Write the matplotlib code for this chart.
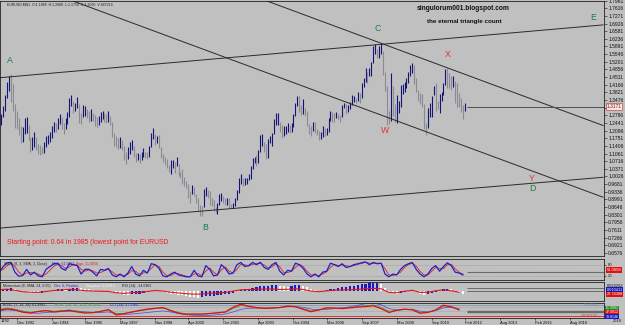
import numpy as np
import matplotlib
matplotlib.use('Agg')
import matplotlib.pyplot as plt
import matplotlib.transforms as mtrans

plt.rcParams['font.family'] = ['Liberation Sans', 'DejaVu Sans']

# ---------------- data ----------------
first_year, first_month = 1992, 3          # first monthly bar: Mar 1992
high = [
    # 1992 Mar-Dec
    1.265, 1.285, 1.320, 1.370, 1.430, 1.455, 1.466, 1.420, 1.330, 1.300,
    # 1993
    1.265, 1.230, 1.225, 1.265, 1.270, 1.235, 1.180, 1.180, 1.205, 1.180, 1.150, 1.145,
    # 1994
    1.135, 1.160, 1.185, 1.190, 1.205, 1.230, 1.250, 1.245, 1.265, 1.285, 1.270, 1.245,
    # 1995
    1.265, 1.295, 1.355, 1.370, 1.345, 1.335, 1.360, 1.330, 1.290, 1.325, 1.320, 1.305,
    # 1996
    1.300, 1.305, 1.290, 1.280, 1.270, 1.275, 1.295, 1.300, 1.290, 1.285, 1.300, 1.275,
    # 1997
    1.250, 1.200, 1.185, 1.175, 1.180, 1.165, 1.140, 1.115, 1.135, 1.160, 1.165, 1.140,
    # 1998
    1.110, 1.110, 1.105, 1.115, 1.130, 1.115, 1.115, 1.140, 1.200, 1.220, 1.195, 1.185,
    # 1999
    1.190, 1.135, 1.105, 1.090, 1.080, 1.055, 1.075, 1.075, 1.070, 1.090, 1.060, 1.025,
    # 2000
    1.035, 1.000, 0.980, 0.968, 0.935, 0.965, 0.955, 0.925, 0.905, 0.875, 0.870, 0.945,
    # 2001
    0.955, 0.940, 0.935, 0.905, 0.895, 0.865, 0.885, 0.925, 0.930, 0.915, 0.905, 0.905,
    # 2002
    0.905, 0.880, 0.885, 0.905, 0.940, 0.995, 1.015, 0.995, 0.995, 0.995, 1.015, 1.050,
    # 2003
    1.085, 1.090, 1.100, 1.120, 1.190, 1.195, 1.160, 1.150, 1.170, 1.185, 1.200, 1.260,
    # 2004
    1.290, 1.290, 1.250, 1.235, 1.230, 1.230, 1.245, 1.235, 1.245, 1.285, 1.335, 1.367,
    # 2005
    1.365, 1.325, 1.350, 1.310, 1.300, 1.240, 1.230, 1.250, 1.250, 1.215, 1.210, 1.205,
    # 2006
    1.230, 1.220, 1.220, 1.265, 1.300, 1.295, 1.290, 1.295, 1.285, 1.280, 1.325, 1.335,
    # 2007
    1.330, 1.325, 1.340, 1.370, 1.365, 1.355, 1.385, 1.380, 1.425, 1.445, 1.490, 1.475,
    # 2008
    1.490, 1.520, 1.590, 1.600, 1.580, 1.590, 1.604, 1.570, 1.475, 1.410, 1.300, 1.470,
    # 2009
    1.410, 1.330, 1.370, 1.345, 1.415, 1.420, 1.430, 1.445, 1.475, 1.505, 1.514, 1.505,
    # 2010
    1.445, 1.395, 1.380, 1.375, 1.330, 1.245, 1.310, 1.335, 1.365, 1.412, 1.425, 1.345,
    # 2011
    1.375, 1.385, 1.425, 1.488, 1.494, 1.470, 1.454, 1.455, 1.435, 1.425, 1.380, 1.355,
    # 2012 Jan-Feb
    1.323, 1.335,
]
low = [
    1.215, 1.235, 1.270, 1.300, 1.355, 1.390, 1.340, 1.300, 1.220, 1.215,
    1.190, 1.155, 1.160, 1.195, 1.200, 1.165, 1.115, 1.120, 1.135, 1.120, 1.105, 1.100,
    1.105, 1.110, 1.135, 1.150, 1.160, 1.175, 1.205, 1.205, 1.215, 1.240, 1.215, 1.195,
    1.215, 1.240, 1.270, 1.320, 1.290, 1.300, 1.310, 1.245, 1.240, 1.270, 1.275, 1.265,
    1.250, 1.255, 1.255, 1.230, 1.225, 1.235, 1.250, 1.260, 1.250, 1.245, 1.250, 1.235,
    1.180, 1.140, 1.135, 1.125, 1.130, 1.120, 1.075, 1.060, 1.080, 1.105, 1.120, 1.090,
    1.070, 1.075, 1.065, 1.075, 1.090, 1.085, 1.080, 1.090, 1.135, 1.170, 1.145, 1.155,
    1.130, 1.085, 1.070, 1.055, 1.040, 1.025, 1.015, 1.040, 1.020, 1.050, 1.005, 0.997,
    0.968, 0.960, 0.950, 0.905, 0.885, 0.925, 0.915, 0.885, 0.845, 0.823, 0.825, 0.865,
    0.915, 0.905, 0.875, 0.870, 0.845, 0.840, 0.834, 0.875, 0.890, 0.885, 0.875, 0.875,
    0.860, 0.860, 0.860, 0.870, 0.895, 0.930, 0.970, 0.960, 0.965, 0.970, 0.985, 0.990,
    1.035, 1.065, 1.050, 1.065, 1.115, 1.140, 1.115, 1.080, 1.085, 1.155, 1.140, 1.195,
    1.235, 1.235, 1.205, 1.175, 1.185, 1.195, 1.205, 1.200, 1.205, 1.225, 1.275, 1.320,
    1.295, 1.280, 1.285, 1.275, 1.230, 1.195, 1.185, 1.210, 1.200, 1.190, 1.165, 1.170,
    1.180, 1.185, 1.190, 1.205, 1.255, 1.250, 1.250, 1.265, 1.260, 1.250, 1.270, 1.310,
    1.285, 1.295, 1.305, 1.325, 1.340, 1.335, 1.345, 1.335, 1.355, 1.405, 1.430, 1.425,
    1.455, 1.455, 1.515, 1.555, 1.535, 1.535, 1.555, 1.460, 1.390, 1.233, 1.240, 1.255,
    1.275, 1.250, 1.246, 1.290, 1.315, 1.375, 1.385, 1.400, 1.425, 1.455, 1.470, 1.420,
    1.385, 1.345, 1.330, 1.315, 1.215, 1.188, 1.220, 1.270, 1.270, 1.370, 1.300, 1.305,
    1.287, 1.345, 1.370, 1.415, 1.400, 1.400, 1.395, 1.405, 1.336, 1.315, 1.315, 1.295,
    1.262, 1.300,
]
last_price = 1.3171

# Stochastic (every 2 months from Mar 1992)
stoch_main = [40, 70, 90, 92, 40,
              18, 22, 55, 25, 40, 20,
              15, 55, 70, 85, 88, 60,
              50, 85, 80, 75, 30, 55,
              55, 40, 20, 55, 50, 60,
              25, 15, 30, 15, 35, 70,
              30, 20, 50, 35, 85, 80,
              60, 20, 15, 30, 40, 25,
              20, 15, 15, 50, 20, 15,
              75, 55, 20, 25, 80, 60,
              30, 35, 80, 92, 70, 75,
              92, 80, 93, 65, 55, 80,
              92, 45, 25, 50, 45, 88,
              80, 60, 30, 15, 30, 15,
              40, 45, 88, 80, 70, 85,
              65, 70, 80, 85, 90, 95,
              80, 92, 85, 88, 30, 15,
              30, 25, 55, 75, 85, 92,
              55, 30, 15, 30, 60, 75,
              45, 70, 90, 75, 40, 35,
              25]
stoch_signal = [45, 55, 75, 88, 70,
                40, 25, 35, 38, 35, 30,
                20, 30, 50, 72, 82, 75,
                60, 68, 80, 78, 55, 45,
                52, 48, 35, 38, 48, 55,
                42, 25, 25, 22, 28, 48,
                45, 28, 35, 40, 60, 80,
                70, 40, 22, 22, 32, 32,
                25, 18, 16, 30, 32, 22,
                45, 62, 40, 25, 52, 68,
                45, 35, 55, 82, 80, 73,
                82, 85, 88, 78, 62, 68,
                85, 68, 38, 38, 45, 65,
                82, 70, 45, 25, 25, 22,
                30, 42, 65, 82, 75, 78,
                75, 70, 75, 82, 87, 92,
                88, 87, 88, 86, 58, 25,
                22, 28, 40, 65, 80, 88,
                72, 45, 25, 25, 45, 65,
                60, 58, 80, 82, 58, 40,
                30]

# Momentum histogram (every 2 months) and its red line (every 4 months)
momentum_hist = [0.10, 0.18, 0.28, 0.35, 0.20,
                 0.02, -0.10, -0.12, -0.15, -0.20, -0.22,
                 -0.18, -0.08, 0.02, 0.12, 0.20, 0.22,
                 0.20, 0.28, 0.34, 0.36, 0.30, 0.24,
                 0.18, 0.12, 0.05, 0.02, 0.00, -0.02,
                 -0.08, -0.18, -0.28, -0.35, -0.38, -0.32,
                 -0.28, -0.25, -0.22, -0.12, 0.02, 0.05,
                 0.02, -0.08, -0.18, -0.25, -0.30, -0.36,
                 -0.42, -0.50, -0.58, -0.62, -0.68, -0.62,
                 -0.52, -0.48, -0.44, -0.40, -0.36, -0.32,
                 -0.26, -0.15, -0.02, 0.12, 0.20, 0.26,
                 0.34, 0.42, 0.50, 0.55, 0.58, 0.64,
                 0.66, 0.58, 0.50, 0.48, 0.52, 0.62,
                 0.64, 0.55, 0.40, 0.25, 0.12, 0.02,
                 0.02, 0.08, 0.18, 0.26, 0.32, 0.40,
                 0.45, 0.52, 0.58, 0.62, 0.70, 0.78,
                 0.80, 0.85, 0.86, 0.70, 0.30, -0.05,
                 -0.20, -0.30, -0.22, -0.10, 0.02, 0.10,
                 -0.05, -0.25, -0.40, -0.30, -0.15, -0.05,
                 0.05, 0.18, 0.25, 0.18, 0.02, -0.12,
                 -0.25]
momentum_line = [0.15, 0.22, 0.10, -0.05, -0.10, -0.12, -0.02, 0.08, 0.14, 0.20,
                 0.15, 0.06, 0.02, 0.00, -0.02, -0.15, -0.22, -0.15, -0.10, -0.02,
                 0.08, 0.02, -0.10, -0.18, -0.25, -0.30, -0.28, -0.20, -0.18, -0.12,
                 0.02, 0.15, 0.18, 0.20, 0.22, 0.24, 0.18, 0.20, 0.26, 0.18,
                 0.02, -0.05, 0.04, 0.10, 0.14, 0.16, 0.20, 0.26, 0.30, 0.25,
                 -0.12, -0.15, 0.00, 0.10, -0.12, -0.10, 0.05, 0.15, 0.05, -0.10]

# Oscillator panel (every 4 months)
osc_red = [48.7, 54, 50, 41, 38, 44, 47, 42, 45, 48,
           42, 38, 39, 44, 51, 30, 35, 42, 48, 53,
           56, 59, 47, 37, 33, 34, 34, 36, 39, 42,
           60, 72, 64, 59, 56, 57, 59, 65, 62, 52,
           43, 50, 58, 57, 55, 58, 61, 63, 66, 55,
           40, 48, 53, 50, 37, 40, 50, 68, 62, 50]
osc_green = [52, 57, 53, 46, 41, 44, 48, 45, 47, 50,
             46, 42, 41, 45, 50, 36, 37, 41, 46, 51,
             55, 57, 49, 40, 35, 34, 33, 35, 38, 41,
             55, 67, 63, 59, 57, 57, 59, 64, 63, 55,
             46, 49, 56, 57, 56, 59, 63, 66, 69, 60,
             45, 48, 52, 51, 40, 41, 49, 65, 63, 52]
osc_blue = [45, 50, 48, 43, 38, 37, 40, 42, 43, 45,
            44, 42, 40, 40, 42, 36, 33, 34, 37, 40,
            43, 46, 42, 36, 31, 29, 28, 29, 31, 34,
            42, 52, 56, 57, 57, 58, 60, 62, 63, 60,
            53, 50, 52, 55, 58, 62, 68, 74, 76, 70,
            55, 50, 51, 53, 45, 42, 47, 58, 60, 54]
osc_levels = [70.0354, 28.00743]

date_labels = ['Dec 1992', 'Jun 1994', 'Nov 1995', 'May 1997', 'Nov 1998', 'Apr 2000',
               'Oct 2001', 'Apr 2003', 'Oct 2004', 'Mar 2006', 'Sep 2007', 'Mar 2009',
               'Sep 2010', 'Feb 2012', 'Aug 2013', 'Feb 2015', 'Aug 2016']

# trendlines (month index from Jan 1992, price)
trend_upper = [(2.36, 1.4483), (311.9, 1.6865)]
trend_a = [(39.8, 1.7944), (311.9, 0.9090)]
trend_c = [(139.4, 1.7944), (311.9, 1.2326)]
trend_lower = [(2.36, 0.7697), (311.9, 0.9989)]

wave_labels = [('A', 7.5, 1.525, 'g'), ('B', 107.6, 0.774, 'g'), ('C', 196.4, 1.6686, 'g'),
               ('W', 200.0, 1.2102, 'r'), ('X', 232.3, 1.5517, 'r'), ('Y', 275.5, 0.9944, 'r'),
               ('D', 275.5, 0.9494, 'g'), ('E', 306.8, 1.718, 'g')]

# ---------------- figure ----------------
W, H = 625, 325
BG = '#c0c0c0'
fig = plt.figure(figsize=(W / 100, H / 100), dpi=100)
fig.patch.set_facecolor(BG)


def box(top, bottom):
    return [0, 1 - bottom / H, 604 / W, (bottom - top) / H]


ax = fig.add_axes(box(0.5, 256))
ax1 = fig.add_axes(box(258.5, 280), sharex=ax)
ax2 = fig.add_axes(box(281.5, 301), sharex=ax)
ax3 = fig.add_axes(box(302.5, 318), sharex=ax)

for a in (ax, ax1, ax2, ax3):
    a.set_facecolor(BG)
    for s in a.spines.values():
        s.set_color('#202020')
        s.set_linewidth(0.6)
    a.tick_params(axis='x', bottom=False, labelbottom=False)
    a.yaxis.tick_right()

x0 = (first_year - 1992) * 12 + first_month - 1
m_price = x0 + np.arange(len(high))
xmin, xmax = 2.36, 312.4
ax.set_xlim(xmin, xmax)

# price bars
mid = (np.array(high) + np.array(low)) / 2
up = np.r_[True, mid[1:] >= mid[:-1]]
ax.vlines(m_price[up], np.array(low)[up], np.array(high)[up], color='#141478', lw=0.8)
ax.vlines(m_price[~up], np.array(low)[~up], np.array(high)[~up], color='#8a8a94', lw=0.8)

ax.set_ylim(0.6438, 1.7966)
yt = np.round(0.6576 + 0.0345 * np.arange(34), 4)
ax.set_yticks(yt)
# the price tag covers the tick label closest to the last price
ax.set_yticklabels(['' if abs(v - last_price) < 0.0173 else f'{v:.4f}' for v in yt])
ax.tick_params(axis='y', length=2, width=0.4, labelsize=3.6, pad=1, colors='#101010')

for line in (trend_upper, trend_a, trend_c, trend_lower):
    (xa, ya), (xb, yb) = line
    ax.plot([xa, xb], [ya, yb], color='#2a2a2a', lw=0.7)

ax.hlines(last_price, m_price[-1] + 1, xmax, color='#505050', lw=0.7)
bt = mtrans.blended_transform_factory(ax.transAxes, ax.transData)
ax.text(1.004, last_price, f'{last_price:.4f}', transform=bt, fontsize=3.4, color='#8a1010',
        ha='left', va='center', clip_on=False,
        bbox=dict(boxstyle='square,pad=0.18', fc='#f6e4e4', ec='#b03030', lw=0.4))

for txt, xm, yp, c in wave_labels:
    ax.text(xm, yp, txt, fontsize=6.3, ha='center', va='center',
            color='#1d7a4c' if c == 'g' else '#e23030')

fig.text(463 / W, 1 - 8 / H, 'singulorum001.blogspot.com', fontsize=4.8, fontweight='bold',
         ha='center', va='center', color='#101010')
fig.text(464 / W, 1 - 21 / H, 'the eternal triangle count', fontsize=4.5, fontweight='bold',
         ha='center', va='center', color='#101010')
fig.text(7 / W, 1 - 242 / H, 'Starting point: 0.64 in 1985 (lowest point for EURUSD',
         fontsize=4.9, ha='left', va='center', color='#f01818')
fig.text(7 / W, 1 - 5 / H, 'EURUSD,MN1  O:1.1868  H:1.2088  L:1.1750  C:1.2060  V:487214',
         fontsize=2.5, ha='left', va='center', color='#202020')

# ---- panel 1: stochastic
m2 = x0 + 2 * np.arange(len(stoch_main))
ax1.set_ylim(-2, 113)
for lv in (20, 80):
    ax1.axhline(lv, color='#8c8c8c', lw=0.4, ls=(0, (1, 1)))
ax1.plot(m2, stoch_signal, color='#e02020', lw=0.6)
ax1.plot(m2, stoch_main, color='#2020c8', lw=0.9)
ax1.hlines(42, m_price[-1] + 1, xmax, color='#6a6a6a', lw=0.8)
ax1.set_yticks([20, 80])
ax1.set_yticklabels(['20', '80'])
ax1.tick_params(axis='y', length=1.5, width=0.4, labelsize=3.0, pad=1, colors='#101010')
bt1 = mtrans.blended_transform_factory(ax1.transAxes, ax1.transData)
ax1.text(1.004, 52, '51.0058', transform=bt1, fontsize=3.0, color='white', ha='left',
         va='center', clip_on=False, bbox=dict(boxstyle='square,pad=0.15', fc='#e01010', ec='none'))
fig.text(4 / W, 1 - 264 / H, 'Stoch (8, 3, SMA, 3, Close)', fontsize=2.5, color='#202020', va='center')
fig.text(52 / W, 1 - 264 / H, 'Main: 51.0651,', fontsize=2.5, color='#2020c8', va='center')
fig.text(76 / W, 1 - 264 / H, 'Sign: 51.0058', fontsize=2.5, color='#e02020', va='center')

# ---- panel 2: momentum histogram
ax2.set_ylim(-1, 1)
mh = np.array(momentum_hist)
rising = np.r_[True, mh[1:] >= mh[:-1]]
ax2.bar(m2[rising], mh[rising], width=1.1, color='#1818c8', lw=0)
ax2.bar(m2[~rising], mh[~rising], width=1.1, color='#ffffff', lw=0)
m4 = x0 + 4 * np.arange(len(momentum_line))
ax2.plot(m4, momentum_line, color='#e01818', lw=0.8)
ax2.hlines([0.3, 0.0], m_price[-1] + 1, xmax, color='#6a6a6a', lw=0.7)
ax2.set_yticks([])
bt2 = mtrans.blended_transform_factory(ax2.transAxes, ax2.transData)
ax2.text(1.004, 0.55, '0.026262', transform=bt2, fontsize=2.9, color='#101010', ha='left',
         va='center', clip_on=False)
ax2.text(1.004, 0.15, '0.010411', transform=bt2, fontsize=2.8, color='white', ha='left',
         va='center', clip_on=False, bbox=dict(boxstyle='square,pad=0.12', fc='#1818b0', ec='none'))
ax2.text(1.004, -0.3, '27.74388', transform=bt2, fontsize=2.8, color='white', ha='left',
         va='center', clip_on=False, bbox=dict(boxstyle='square,pad=0.12', fc='#e01010', ec='none'))
fig.text(3 / W, 1 - 286 / H, 'Momentum (8, SMA, 24, 0.05)', fontsize=2.5, color='#202020', va='center')
fig.text(54 / W, 1 - 286 / H, 'Clrs: 0, Positive,', fontsize=2.5, color='#2020c8', va='center')
fig.text(86 / W, 1 - 286 / H, 'Negative: 0.02612,', fontsize=2.5, color='#f4f4f4', va='center')
fig.text(122 / W, 1 - 286 / H, 'RSI (14): -14.0963', fontsize=2.5, color='#202020', va='center')

# ---- panel 3: oscillators
ax3.set_ylim(18.6, 78.6)
ax3.axhline(osc_levels[0], color='#7090b0', lw=0.5)
ax3.axhline(osc_levels[1], color='#e02020', lw=0.6)
for lv in (61, 44):
    ax3.axhline(lv, color='#909090', lw=0.4, ls=(0, (1, 1)))
ax3.plot(m4, osc_blue, color='#4848e0', lw=0.5)
ax3.plot(m4, osc_green, color='#3c9a3c', lw=0.5)
ax3.plot(m4, osc_red, color='#e01010', lw=0.9)
ax3.hlines([41, 45], m_price[-1] + 1, xmax, color='#6a6a6a', lw=1.0)
ax3.set_yticks([])
bt3 = mtrans.blended_transform_factory(ax3.transAxes, ax3.transData)
ax3.text(0.994, osc_levels[0], f'{osc_levels[0]:.4f} +', transform=bt3, fontsize=2.7,
         color='#5a7fa8', ha='right', va='center')
ax3.text(0.994, osc_levels[1], f'{osc_levels[1]:.5f} +', transform=bt3, fontsize=2.7,
         color='#e02020', ha='right', va='center')
ax3.text(1.003, 57, '61.9993', transform=bt3, fontsize=2.6, color='white', ha='left',
         va='center', clip_on=False, bbox=dict(boxstyle='square,pad=0.1', fc='#208a20', ec='none'))
ax3.text(1.003, 42, '47.0812', transform=bt3, fontsize=2.6, color='white', ha='left',
         va='center', clip_on=False, bbox=dict(boxstyle='square,pad=0.1', fc='#e01010', ec='none'))
ax3.text(1.003, 24, '39.8146', transform=bt3, fontsize=2.6, color='white', ha='left',
         va='center', clip_on=False, bbox=dict(boxstyle='square,pad=0.1', fc='#1818c0', ec='none'))
fig.text(3 / W, 1 - 305 / H, 'ROSC (7, 14, 28): 61.9993 -', fontsize=2.5, color='#202020', va='center')
fig.text(55 / W, 1 - 305 / H, 'ROSC (28, 56, 112): 56.9991 -', fontsize=2.5, color='#3c9a3c', va='center')
fig.text(110 / W, 1 - 305 / H, 'CCI (14): 47.0960 -', fontsize=2.5, color='#2020c8', va='center')

# date axis
mon = {'Jan': 1, 'Feb': 2, 'Mar': 3, 'Apr': 4, 'May': 5, 'Jun': 6, 'Jul': 7, 'Aug': 8,
       'Sep': 9, 'Oct': 10, 'Nov': 11, 'Dec': 12}
date_pos = [(int(s.split()[1]) - 1992) * 12 + mon[s.split()[0]] - 1 for s in date_labels]
ax3.set_xticks(date_pos)
ax3.set_xticklabels(date_labels)
ax3.tick_params(axis='x', bottom=True, labelbottom=True, length=1.5, width=0.4,
                labelsize=2.9, pad=0.6, colors='#101010')
for lab in ax3.get_xticklabels():
    lab.set_ha('left')
fig.text(1 / W, 1 - 321.5 / H, '1992', fontsize=2.9, color='#101010', va='center')
fig.text(613 / W, 1 - 321.5 / H, '2018', fontsize=2.9, color='#101010', va='center')

fig.savefig('out.png', dpi=100, facecolor=BG)
